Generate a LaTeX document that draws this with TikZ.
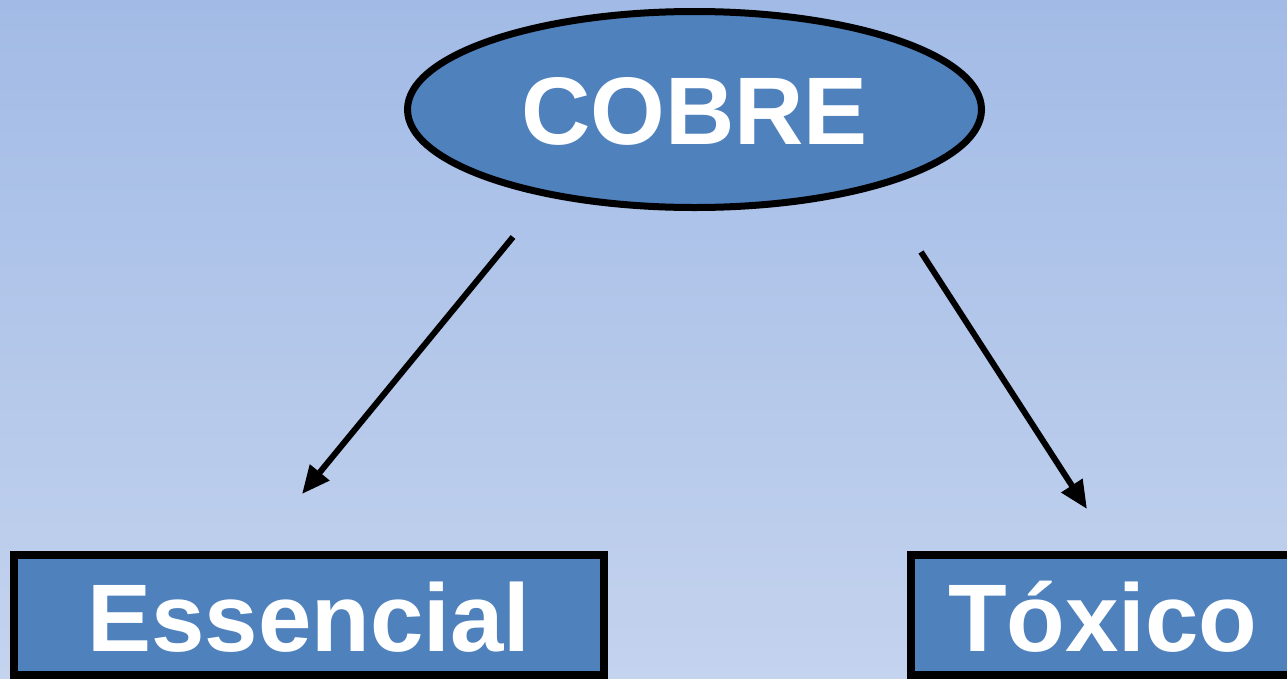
\documentclass[tikz,border=0pt]{standalone}
\usepackage{fontspec}
\setmainfont{Liberation Sans}
\usepackage{xcolor}
\usetikzlibrary{positioning,arrows.meta,shapes.geometric}

\definecolor{boxblue}{RGB}{79,129,189}
\definecolor{bgtop}{RGB}{162,187,230}
\definecolor{bgbottom}{RGB}{196,211,238}

\begin{document}
\begin{tikzpicture}[
  x=1pt, y=-1pt,
  cuprobox/.style={ellipse, draw=black, line width=7pt, fill=boxblue, text=white,
    minimum width=574pt, minimum height=196pt, inner sep=0pt,
    font=\fontsize{96}{110}\selectfont\bfseries, text height=69pt, text depth=0pt},
  rolebox/.style={rectangle, draw=black, line width=8pt, fill=boxblue, text=white,
    minimum height=120pt, inner sep=0pt,
    font=\fontsize{96}{110}\selectfont\bfseries, text height=73pt, text depth=0pt},
  arr/.style={-{Triangle[length=28pt, width=24pt]}, line width=6pt},
]
  \useasboundingbox (0,0) rectangle (1287,678);
  \clip (0,0) rectangle (1287,678);
  \shade[top color=bgtop, bottom color=bgbottom] (0,0) rectangle (1287,678);

  \node[cuprobox] (cobre) at (694.5,109.5) {COBRE};
  \node[rolebox, minimum width=590pt] (essencial) at (309,615) {Essencial};
  \node[rolebox, minimum width=393pt, anchor=west, text width=393pt, align=left]
    (toxico) at (907,615) {\hspace*{37pt}Tóxico};

  % free ends of the two arrows
  \coordinate (essStart) at (513,237);
  \coordinate (essEnd) at (302,494);
  \coordinate (toxStart) at (921,252);
  \coordinate (toxEnd) at (1087,509);

  \draw[arr] (essStart) -- (essEnd);
  \draw[arr] (toxStart) -- (toxEnd);
\end{tikzpicture}
\end{document}
